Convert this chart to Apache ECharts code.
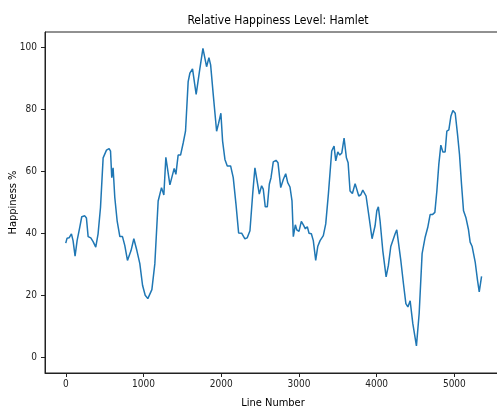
<!DOCTYPE html>
<html>
<head>
<meta charset="utf-8">
<script src="https://cdn.jsdelivr.net/npm/echarts@6/dist/echarts.min.js"></script>
<style>
html,body{margin:0;padding:0;background:#fff;}
#chart{width:497px;height:412px;}
</style>
</head>
<body>
<div id="chart"></div>
<script>
const titleText = 'Relative Happiness Level: Hamlet';
const xName = 'Line Number';
const yName = 'Happiness %';
const xTicks = [0, 1000, 2000, 3000, 4000, 5000];
const yTicks = [0, 20, 40, 60, 80, 100];

const lineNumbers = [0,17,43,73,94,120,146,180,206,245,266,288,322,352,386,416,447,481,524,558,576,592,609,631,661,696,730,760,794,840,876,915,953,988,1022,1056,1108,1146,1189,1232,1262,1288,1340,1395,1417,1446,1477,1511,1541,1575,1597,1631,1678,1726,1765,1812,1842,1864,1898,1941,1967,1996,2018,2048,2078,2121,2155,2190,2224,2263,2305,2335,2370,2405,2434,2490,2520,2541,2567,2593,2619,2641,2670,2705,2731,2766,2800,2830,2856,2885,2911,2928,2954,2972,3001,3031,3057,3083,3108,3130,3160,3185,3216,3242,3272,3314,3345,3379,3422,3452,3474,3500,3526,3552,3581,3611,3633,3658,3688,3723,3744,3770,3796,3822,3864,3903,3941,3980,4002,4022,4044,4079,4122,4151,4182,4203,4238,4259,4281,4311,4345,4376,4402,4431,4465,4512,4547,4585,4624,4658,4688,4718,4749,4775,4800,4826,4852,4881,4903,4929,4955,4981,5011,5041,5066,5092,5118,5148,5182,5203,5229,5268,5298,5320,5350];

const happiness = [36.9,38.5,38.6,39.9,37.7,32.7,37.7,42,45.4,45.7,45,39,38.6,37.4,35.6,39.9,48.4,64.4,66.9,67.4,66.6,58,61.2,51.6,44.1,39,39,36.1,31.3,34.5,38.3,34.5,30.3,23.3,20.1,19,21.9,30.2,50.5,54.8,52.4,64.6,55.7,61,59.1,65.3,65.3,69.2,73,89,91.7,93.1,84.9,93.3,99.7,93.8,96.7,94.4,84.7,73,75.6,78.8,69.8,63.9,61.8,61.8,58,49.5,40.2,40.1,38.3,38.6,40.9,52.7,61.2,52.7,55.4,54.3,48.6,48.6,55.9,58,63.1,63.6,62.8,54.8,57.5,59.3,56.4,55,50.5,39,42.8,41.2,40.7,43.9,42.8,41.5,42.2,40.1,39.9,37.7,31.3,35.8,37.7,39.3,43.1,52.7,66.6,68.2,63.4,66.3,65.3,66,70.8,64.4,62.8,53.7,52.9,56.1,56.1,52.1,52.5,54,52.1,45.2,38.3,42.5,47.3,48.6,44.1,34.5,26,29.7,35.8,36.1,39.9,41.2,40.9,31.3,23.8,17.4,16.3,18.3,11,3.75,14.2,33.5,38.8,42,46.1,46.1,46.8,53.8,62.3,68.5,66.3,66.3,73,73.4,77.8,79.7,78.8,71.9,65.5,55.9,47.3,45.2,41.2,37.2,35.8,30.8,24.9,21.2,26.2];

const FONT = '"Liberation Sans Narrow", "DejaVu Sans Condensed", "DejaVu Sans", sans-serif';
const seriesData = lineNumbers.map((x, i) => [x, happiness[i]]);

const chart = echarts.init(document.getElementById('chart'), null, {renderer: 'canvas'});
chart.setOption({
  animation: false,
  backgroundColor: '#ffffff',
  title: {
    text: titleText,
    left: 273,
    textAlign: 'center',
    top: 10,
    textStyle: {fontFamily: FONT, fontSize: 12, fontWeight: 'normal', color: '#000'}
  },
  grid: {
    left: 45, top: 32, width: 456, height: 341,
    containLabel: false,
    outerBoundsMode: 'none',
    show: true, borderColor: '#222', borderWidth: 1, backgroundColor: 'transparent'
  },
  xAxis: {
    type: 'value',
    min: -267, max: 5600,
    name: xName,
    nameLocation: 'middle',
    nameGap: 25,
    nameMoveOverlap: false,
    nameTextStyle: {fontFamily: FONT, fontSize: 11, color: '#000'},
    axisLine: {show: true, onZero: false, lineStyle: {color: '#222', width: 1}},
    axisTick: {show: true, length: 4, customValues: xTicks, lineStyle: {color: '#222'}},
    axisLabel: {customValues: xTicks, margin: 6, fontFamily: FONT, fontSize: 10, color: '#222',
      formatter: function (v) { return String(v); }},
    splitLine: {show: false}
  },
  yAxis: {
    type: 'value',
    min: -5, max: 105,
    name: yName,
    nameLocation: 'middle',
    nameGap: 26,
    nameMoveOverlap: false,
    nameTextStyle: {fontFamily: FONT, fontSize: 11, color: '#000'},
    axisLine: {show: true, onZero: false, lineStyle: {color: '#222', width: 1}},
    axisTick: {show: true, length: 4, customValues: yTicks, lineStyle: {color: '#222'}},
    axisLabel: {customValues: yTicks, margin: 8, fontFamily: FONT, fontSize: 10, color: '#222',
      formatter: function (v) { return String(v); }},
    splitLine: {show: false}
  },
  series: [{
    type: 'line',
    data: seriesData,
    showSymbol: false,
    symbol: 'none',
    lineStyle: {color: '#1f77b4', width: 1.5},
    z: 3
  }]
});
</script>
</body>
</html>
